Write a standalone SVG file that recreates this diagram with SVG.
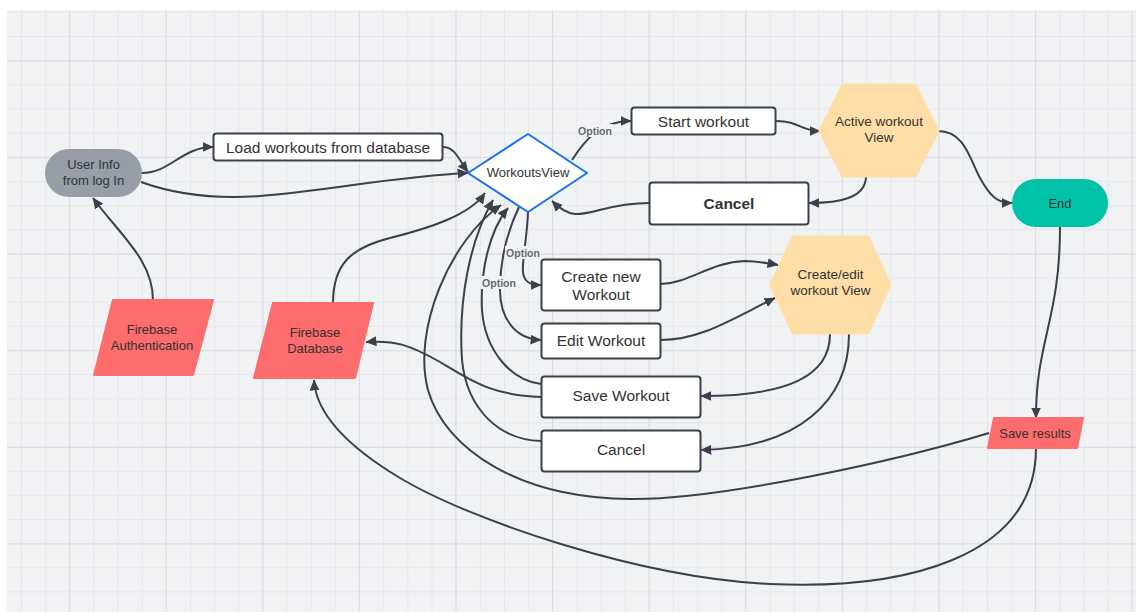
<svg xmlns="http://www.w3.org/2000/svg" width="1136" height="612" viewBox="0 0 1136 612">
<style>
  .t { font-family: "Liberation Sans", Arial, sans-serif; fill: #333333; text-anchor: middle; }
  .lbl { font-family: "Liberation Sans", Arial, sans-serif; font-size: 10.5px; font-weight: bold; fill: #666a70; text-anchor: middle; }
  .box { fill: #ffffff; stroke: #3a414a; stroke-width: 2; }
  .conn { fill: none; stroke: #3a414a; stroke-width: 2; }
  .arr { marker-end: url(#ah); }
  .red { fill: #fd6d6d; stroke: #fd6d6d; stroke-width: 2; stroke-linejoin: round; }
  .hex { fill: #ffdea7; stroke: #ffdea7; stroke-width: 3; stroke-linejoin: round; }
  .lblbg { fill: #f1f2f4; }
</style>
<defs>
  <marker id="ah" viewBox="0 0 10 10" refX="9.5" refY="5" markerWidth="11" markerHeight="11" markerUnits="userSpaceOnUse" orient="auto">
    <path d="M0,0.5 L10,5 L0,9.5 z" fill="#3a414a"/>
  </marker>
  <pattern id="minor" x="21" y="36" width="24.15" height="24.15" patternUnits="userSpaceOnUse">
    <rect x="0" y="0" width="1" height="24.15" fill="#e5e6e9"/>
    <rect x="0" y="0" width="24.15" height="1" fill="#e5e6e9"/>
  </pattern>
  <pattern id="major" x="69" y="60.5" width="96.6" height="96.6" patternUnits="userSpaceOnUse">
    <rect x="0" y="0" width="1" height="96.6" fill="#dadcdf"/>
    <rect x="0" y="0" width="96.6" height="1" fill="#dadcdf"/>
  </pattern>
</defs>

<rect x="0" y="0" width="1136" height="612" fill="#ffffff"/>
<rect x="7" y="10" width="1129" height="602" fill="#f1f2f4"/>
<rect x="7" y="10" width="1129" height="602" fill="url(#minor)"/>
<rect x="7" y="10" width="1129" height="602" fill="url(#major)"/>

<g id="connectors">
  <path class="conn arr" d="M142,173 C170,173 182,147 213,147"/>
  <path class="conn arr" d="M141,182 C180,196 220,199 260,196 C330,190 400,176 468,173"/>
  <path class="conn arr" d="M443,147 C455,147 459,160 468,172"/>
  <path class="conn arr" d="M572,160 C585,140 600,121 631,121"/>
  <path class="conn arr" d="M776,121 C800,121 800,131 820,131"/>
  <path class="conn arr" d="M938,131 C965,131 970,160 980,178 C990,196 997,203 1012,203"/>
  <path class="conn arr" d="M866,176 C866,198 840,203 809,203"/>
  <path class="conn arr" d="M649,203 C610,203 592,215 575,214 C565,213 558,207 552,201"/>
  <path class="conn arr" d="M528,212 C527,240 522,258 523,272 C524,282 530,285 541,285"/>
  <path class="conn arr" d="M519,207 C508,230 500,260 500,290 C500,318 515,339 541,340"/>
  <path class="conn arr" d="M661,284 C690,283 710,262 745,261 C757,261 767,263 778,265"/>
  <path class="conn arr" d="M661,340 C700,340 730,320 775,298"/>
  <path class="conn arr" d="M830,334 C830,375 790,396 701,396"/>
  <path class="conn arr" d="M849,334 C849,400 800,448 701,450"/>
  <path class="conn arr" d="M1060,227 C1060,320 1036,340 1036,418"/>
  <path class="conn arr" d="M153,300 C153,260 120,235 93,198"/>
  <path class="conn arr" d="M333,303 C333,265 350,248 390,238 C430,228 470,215 485,193"/>
  <path class="conn arr" d="M541,441 C500,440 467,410 462,360 C458,300 470,240 493,200"/>
  <path class="conn arr" d="M541,384 C510,380 485,350 482,310 C480,270 490,230 508,208"/>
  <path class="conn arr" d="M541,397 C490,395 470,380 440,362 C410,345 395,340 366,342"/>
  <path class="conn arr" d="M989,433 C900,460 720,500 630,499 C520,498 445,450 428,390 C412,330 450,240 501,205"/>
  <path class="conn arr" d="M1036,448 C1036,560 900,590 770,584 C640,578 470,520 400,478 C350,448 316,415 314,380"/>
  <rect class="lblbg" x="577" y="124" width="36" height="13"/>
  <text class="lbl" x="595" y="134.5">Option</text>
  <rect class="lblbg" x="505" y="246" width="36" height="13"/>
  <text class="lbl" x="523" y="256.5">Option</text>
  <rect class="lblbg" x="481" y="276" width="36" height="13"/>
  <text class="lbl" x="499" y="286.5">Option</text>
</g>

<g id="user-info">
  <rect x="45" y="149" width="97" height="48" rx="24" fill="#979ea8"/>
  <text class="t" x="93.5" y="169" font-size="13">User Info</text>
  <text class="t" x="93.5" y="185" font-size="13">from log In</text>
</g>
<g id="load-workouts">
  <rect class="box" x="213.5" y="133.5" width="229" height="27" rx="3"/>
  <text class="t" x="328" y="152.5" font-size="15.5">Load workouts from database</text>
</g>
<g id="workouts-view">
  <polygon points="468,173 528,134 587,173 528,212" fill="#ffffff" stroke="#1a73e8" stroke-width="2" stroke-linejoin="round"/>
  <text class="t" x="528" y="176.5" font-size="13">WorkoutsView</text>
</g>
<g id="start-workout">
  <rect class="box" x="631.5" y="107.5" width="144" height="27" rx="3"/>
  <text class="t" x="703.5" y="126.5" font-size="15.5">Start workout</text>
</g>
<g id="active-workout-view">
  <polygon class="hex" points="820,131 843,85 915,85 938,131 915,176 843,176"/>
  <text class="t" x="879" y="126" font-size="13.5">Active workout</text>
  <text class="t" x="879" y="142" font-size="13.5">View</text>
</g>
<g id="cancel-top">
  <rect class="box" x="649.5" y="182.5" width="159" height="42" rx="3"/>
  <text class="t" x="729" y="209" font-size="15.5" font-weight="bold">Cancel</text>
</g>
<g id="end">
  <rect x="1012" y="179" width="96" height="48" rx="24" fill="#00c2a8"/>
  <text class="t" x="1060" y="207.5" font-size="13">End</text>
</g>
<g id="create-new-workout">
  <rect class="box" x="541.5" y="259.5" width="119" height="51" rx="3"/>
  <text class="t" x="601" y="281.5" font-size="15.5">Create new</text>
  <text class="t" x="601" y="300" font-size="15.5">Workout</text>
</g>
<g id="edit-workout">
  <rect class="box" x="541.5" y="323.5" width="119" height="35" rx="3"/>
  <text class="t" x="601" y="346" font-size="15.5">Edit Workout</text>
</g>
<g id="create-edit-view">
  <polygon class="hex" points="771,285 793,237 868,237 890,285 868,333 793,333"/>
  <text class="t" x="830.5" y="279" font-size="13.5">Create/edit</text>
  <text class="t" x="830.5" y="295" font-size="13.5">workout View</text>
</g>
<g id="save-workout">
  <rect class="box" x="541.5" y="376.5" width="159" height="41" rx="3"/>
  <text class="t" x="621" y="401" font-size="15.5">Save Workout</text>
</g>
<g id="cancel-bottom">
  <rect class="box" x="541.5" y="430.5" width="159" height="41" rx="3"/>
  <text class="t" x="621" y="455" font-size="15.5">Cancel</text>
</g>
<g id="firebase-auth">
  <polygon class="red" points="113,300 213,300 193,375 94,375"/>
  <text class="t" x="152" y="334" font-size="13">Firebase</text>
  <text class="t" x="152" y="350" font-size="13">Authentication</text>
</g>
<g id="firebase-db">
  <polygon class="red" points="273,303 373,303 355,378 254,378"/>
  <text class="t" x="315" y="336.5" font-size="13">Firebase</text>
  <text class="t" x="315" y="353" font-size="13">Database</text>
</g>
<g id="save-results">
  <polygon class="red" points="994,418 1083,418 1077,448 988,448"/>
  <text class="t" x="1035" y="437.5" font-size="13">Save results</text>
</g>
</svg>
